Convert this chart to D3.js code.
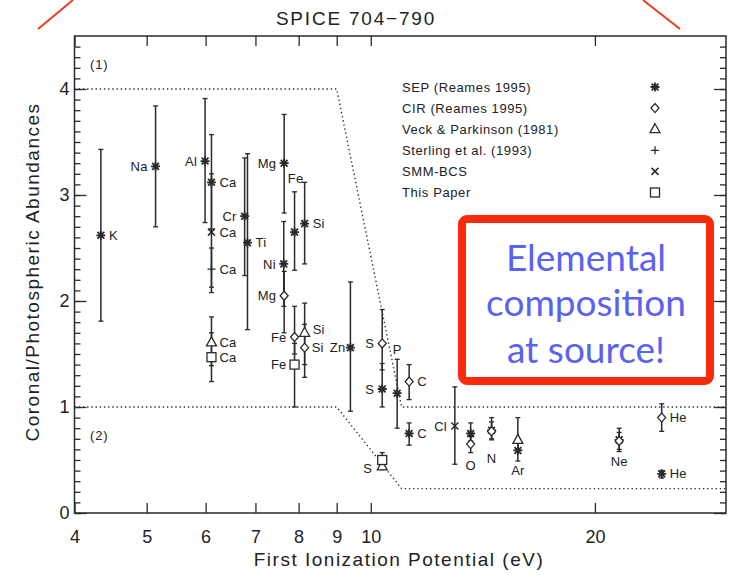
<!DOCTYPE html>
<html>
<head>
<meta charset="utf-8">
<script src="https://cdn.jsdelivr.net/npm/d3@7"></script>
<style>
  body { margin: 0; background: #fff; }
  svg text { font-family: "Liberation Sans", Arial, sans-serif; fill: #222; }
</style>
</head>
<body>
<svg id="chart" width="729" height="575"></svg>
<script>
// first ionization potentials (eV), as placed on the plot
const ionization = {K: 4.34, Na: 5.14, Al: 5.99, Ca: 6.11, Cr: 6.77, Ti: 6.83, Ni: 7.64, Mg: 7.65,
  Fe: 7.90, Si: 8.15, Zn: 9.39, S: 10.36, P: 10.85, C: 11.26, Cl: 12.97, O: 13.62, N: 14.53,
  Ar: 15.76, Ne: 21.56, He: 24.59};

const seriesNames = ["SEP (Reames 1995)", "CIR (Reames 1995)", "Veck & Parkinson (1981)",
  "Sterling et al. (1993)", "SMM-BCS", "This Paper"];
const seriesSymbols = ["asterisk", "diamond", "triangle", "plus", "cross", "square"];

const sepElements = ["K", "Na", "Al", "Ca", "Cr", "Ti", "Mg", "Fe", "Si", "Ni", "Zn", "S", "P", "C", "O", "N", "Ar", "Ne", "He"];
const sepValues = [2.62, 3.27, 3.32, 3.12, 2.80, 2.55, 3.30, 2.65, 2.73, 2.35, 1.56, 1.17, 1.13, 0.75, 0.75, 0.78, 0.59, 0.69, 0.37];
const sepHigh =   [3.43, 3.84, 3.91, 3.57, 3.35, 3.39, 3.76, 3.03, 3.12, 2.75, 2.18, 1.41, 1.45, 0.85, 0.85, 0.90, 0.66, 0.80, 0.40];
const sepLow =    [1.81, 2.70, 2.74, 2.68, 2.24, 1.73, 2.83, 2.29, 2.35, 1.95, 0.96, 1.00, 0.80, 0.64, 0.68, 0.70, 0.49, 0.60, 0.33];

const cirElements = ["Mg", "Fe", "Si", "S", "C", "O", "N", "Ne", "He"];
const cirValues = [2.05, 1.66, 1.56, 1.60, 1.24, 0.65, 0.77, 0.68, 0.90];
const cirHigh =   [2.28, 1.95, 1.78, 1.92, 1.40, 0.72, 0.86, 0.76, 1.03];
const cirLow =    [1.70, 1.50, 1.28, 1.35, 1.07, 0.57, 0.69, 0.58, 0.77];

const veckElements = ["Ca", "Si", "S", "Ar"];
const veckValues = [1.61, 1.70, 0.44, 0.69];
const veckHigh =   [1.85, 1.98, 0.50, 0.90];
const veckLow =    [1.39, 1.40, 0.41, 0.60];

const sterlingElements = ["Ca"];
const sterlingValues = [2.30];
const sterlingHigh = [2.50];
const sterlingLow = [2.13];

const smmElements = ["Ca", "Cl"];
const smmValues = [2.65, 0.82];
const smmHigh = [3.20, 1.19];
const smmLow = [2.08, 0.46];

const paperElements = ["Ca", "Fe", "S"];
const paperValues = [1.47, 1.40, 0.50];
const paperHigh = [1.70, 1.60, 0.57];
const paperLow = [1.24, 1.00, 0.45];

// FIP-effect boundaries (1) and (2)
const boundFip = [4, 9, 11, 30];
const boundUpper = [4, 4, 1, 1];
const boundLower = [1, 1, 0.23, 0.23];

const xTicks = [4, 5, 6, 7, 8, 9, 10, 20];
const yTicks = [0, 1, 2, 3, 4];

// where each element name sits next to its point
const labelPlace = {
  "0:K": "r", "0:Na": "l", "0:Al": "l", "0:Ca": "r", "0:Cr": "l", "0:Ti": "r", "0:Mg": "l",
  "0:Fe": [1, -54, "middle"], "0:Si": "r", "0:Ni": "l", "0:Zn": [-5, 0, "end"], "0:S": "l",
  "0:P": [0, -44, "middle"], "0:C": "r", "0:Ar": [0, 20, "middle"], "0:Ne": [0, 21, "middle"], "0:He": "r",
  "1:Mg": "l", "1:Fe": "l", "1:Si": [7, 0, "start"], "1:S": "l", "1:C": "r", "1:O": [0, 21, "middle"],
  "1:N": [0, 27, "middle"], "1:He": "r",
  "2:Ca": "r", "2:Si": [8, -3, "start"], "3:Ca": "r", "4:Ca": "r", "4:Cl": "l",
  "5:Ca": "r", "5:Fe": "l", "5:S": [-10, 8, "end"]
};

const series = [
  [sepElements, sepValues, sepHigh, sepLow],
  [cirElements, cirValues, cirHigh, cirLow],
  [veckElements, veckValues, veckHigh, veckLow],
  [sterlingElements, sterlingValues, sterlingHigh, sterlingLow],
  [smmElements, smmValues, smmHigh, smmLow],
  [paperElements, paperValues, paperHigh, paperLow]
];

const svg = d3.select("#chart");
const ink = "#2a2a2a";

const x = d3.scaleLog().domain([4, 30]).range([74.5, 726]);
const y = d3.scaleLinear().domain([0, 4.5]).range([513, 36]);

// title
svg.append("text").attr("x", 356).attr("y", 25).attr("text-anchor", "middle")
  .style("font-size", "19px").style("letter-spacing", "1.8px").text("SPICE 704\u2212790");

// red pointer strokes at top
svg.append("line").attr("x1", 38).attr("y1", 29).attr("x2", 73).attr("y2", 0)
  .attr("stroke", "#f03a1e").attr("stroke-width", 2);
svg.append("line").attr("x1", 643).attr("y1", 0).attr("x2", 680).attr("y2", 29)
  .attr("stroke", "#f03a1e").attr("stroke-width", 2);

// axes
const tidy = g => { g.select(".domain").remove(); g.selectAll("line").attr("stroke", ink).attr("stroke-width", 1.3); };

svg.append("g").attr("transform", `translate(0,${y(0)})`)
  .call(d3.axisBottom(x).tickValues(xTicks).tickFormat(d3.format("d")).tickSizeInner(-10).tickSizeOuter(0).tickPadding(17))
  .call(tidy)
  .selectAll("text").style("font-size", "18px").attr("fill", ink);

svg.append("g").attr("transform", `translate(0,${y(4.5)})`)
  .call(d3.axisTop(x).tickValues(xTicks).tickFormat("").tickSizeInner(-10).tickSizeOuter(0))
  .call(tidy);

svg.append("g").attr("transform", `translate(${x(4)},0)`)
  .call(d3.axisLeft(y).tickValues(d3.range(0, 45).map(d => d / 10)).tickFormat("").tickSizeInner(-6).tickSizeOuter(0))
  .call(tidy);
svg.append("g").attr("transform", `translate(${x(4)},0)`)
  .call(d3.axisLeft(y).tickValues(yTicks).tickFormat(d3.format("d")).tickSizeInner(-12).tickSizeOuter(0).tickPadding(5))
  .call(tidy)
  .selectAll("text").style("font-size", "18px").attr("fill", ink);

svg.append("g").attr("transform", `translate(${x(30)},0)`)
  .call(d3.axisRight(y).tickValues(d3.range(0, 45).map(d => d / 10)).tickFormat("").tickSizeInner(-6).tickSizeOuter(0))
  .call(tidy);
svg.append("g").attr("transform", `translate(${x(30)},0)`)
  .call(d3.axisRight(y).tickValues(yTicks).tickFormat("").tickSizeInner(-12).tickSizeOuter(0))
  .call(tidy);

svg.append("rect").attr("x", x(4)).attr("y", y(4.5))
  .attr("width", x(30) - x(4)).attr("height", y(0) - y(4.5))
  .attr("fill", "none").attr("stroke", ink).attr("stroke-width", 1.5);

svg.append("text").attr("x", 399).attr("y", 566).attr("text-anchor", "middle")
  .style("font-size", "19px").style("letter-spacing", "1.5px").attr("fill", ink)
  .text("First Ionization Potential (eV)");
svg.append("text").attr("transform", "translate(39,272) rotate(-90)").attr("text-anchor", "middle")
  .style("font-size", "19px").style("letter-spacing", "1.5px").attr("fill", ink)
  .text("Coronal/Photospheric Abundances");

// boundary dotted lines
const bound = d3.line().x(d => x(d[0])).y(d => y(d[1]));
[boundUpper, boundLower].forEach(vals => {
  svg.append("path").datum(boundFip.map((f, i) => [f, vals[i]]))
    .attr("d", bound).attr("fill", "none").attr("stroke", "#333")
    .attr("stroke-width", 1.4).attr("stroke-dasharray", "1.4,2.8");
});
svg.append("text").attr("x", 90).attr("y", 69).style("font-size", "13px").style("letter-spacing", "0.8px").text("(1)");
svg.append("text").attr("x", 90).attr("y", 440).style("font-size", "13px").style("letter-spacing", "0.8px").text("(2)");

// marker shapes
function marker(g, type, cx, cy) {
  const s = g.append("g").attr("transform", `translate(${cx},${cy})`)
    .attr("stroke", ink).attr("fill", "#fff");
  if (type === "asterisk") {
    s.attr("stroke-width", 1.8);
    s.append("path").attr("d", "M-4.5,0H4.5M0,-4.5V4.5M-3.4,-3.4L3.4,3.4M-3.4,3.4L3.4,-3.4");
  } else if (type === "diamond") {
    s.attr("stroke-width", 1.3);
    s.append("path").attr("d", "M0,-4.5L4,0L0,4.5L-4,0Z");
  } else if (type === "triangle") {
    s.attr("stroke-width", 1.3);
    s.append("path").attr("d", "M0,-5.5L5,3.5H-5Z");
  } else if (type === "plus") {
    s.attr("stroke-width", 1.3);
    s.append("path").attr("d", "M-4,0H4M0,-4V4");
  } else if (type === "cross") {
    s.attr("stroke-width", 1.5);
    s.append("path").attr("d", "M-3.5,-3.5L3.5,3.5M-3.5,3.5L3.5,-3.5");
  } else {
    s.attr("stroke-width", 1.3);
    s.append("rect").attr("x", -4.5).attr("y", -4.5).attr("width", 9).attr("height", 9);
  }
}

const bars = svg.append("g");
const marks = svg.append("g");
const labels = svg.append("g").style("font-size", "13px").style("letter-spacing", "0.2px");

series.forEach(([els, vals, hi, lo], si) => {
  els.forEach((el, i) => {
    const cx = x(ionization[el]);
    bars.append("line").attr("x1", cx).attr("x2", cx).attr("y1", y(hi[i])).attr("y2", y(lo[i]))
      .attr("stroke", ink).attr("stroke-width", 1.5);
    [hi[i], lo[i]].forEach(v => bars.append("line").attr("x1", cx - 2.5).attr("x2", cx + 2.5)
      .attr("y1", y(v)).attr("y2", y(v)).attr("stroke", ink).attr("stroke-width", 1.3));
    marker(marks, seriesSymbols[si], cx, y(vals[i]));
    const p = labelPlace[si + ":" + el];
    if (!p) return;
    const [dx, dy, anchor] = p === "r" ? [8, 0, "start"] : p === "l" ? [-8, 0, "end"] : p;
    labels.append("text").attr("x", cx + dx).attr("y", y(vals[i]) + dy).attr("dy", "0.36em")
      .attr("text-anchor", anchor).text(el);
  });
});

// legend
const legend = svg.append("g").attr("transform", "translate(402,87)");
seriesNames.forEach((name, i) => {
  legend.append("text").attr("x", 0).attr("y", i * 21.1).attr("dy", "0.36em")
    .style("font-size", "13px").style("letter-spacing", "0.6px").text(name);
  marker(legend, seriesSymbols[i], 253, i * 21.1);
});

// annotation box
svg.append("rect").attr("x", 462).attr("y", 219).attr("width", 248).attr("height", 162)
  .attr("rx", 5).attr("fill", "#fff").attr("stroke", "#fa2a0c").attr("stroke-width", 8);
["Elemental", "composition", "at source!"].forEach((t, i) => {
  svg.append("text").attr("x", 586).attr("y", [258, 303, 350][i]).attr("dy", "0.35em")
    .attr("text-anchor", "middle").style("font-family", "Lato, 'Open Sans', sans-serif")
    .style("font-size", "37px").style("fill", "#5a62f0").text(t);
});
</script>
</body>
</html>
